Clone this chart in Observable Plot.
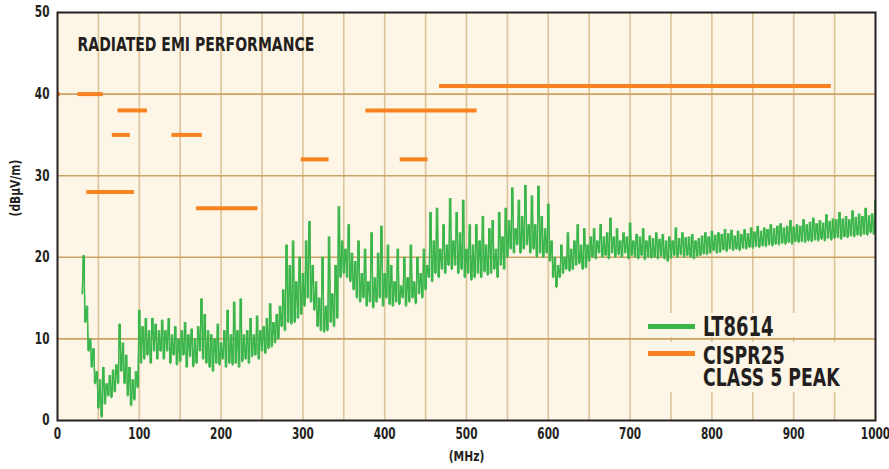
<!DOCTYPE html>
<html>
<head>
<meta charset="utf-8">
<script src="https://cdn.jsdelivr.net/npm/d3@7"></script>
<script src="https://cdn.jsdelivr.net/npm/@observablehq/plot@0.6"></script>
<style>
  html, body { margin: 0; padding: 0; background: #ffffff; }
  #wrap { position: relative; width: 889px; height: 469px; }
  .lg { position: absolute; font-family: "DejaVu Sans Condensed", "DejaVu Sans", sans-serif; font-weight: bold; color: #231f20; line-height: 1; white-space: nowrap; transform: scaleX(0.77); transform-origin: left center; }
  .sw { position: absolute; height: 5px; width: 47px; }
</style>
</head>
<body>
<div id="wrap"></div>
<script>
// ---- data ----
const title = "RADIATED EMI PERFORMANCE";
const xTicks = [0, 100, 200, 300, 400, 500, 600, 700, 800, 900, 1000];
const yTicks = [0, 10, 20, 30, 40, 50];
const xGrid = [50, 100, 150, 200, 250, 300, 350, 400, 450, 500, 550, 600, 650, 700, 750, 800, 850, 900, 950];
const yGrid = [10, 20, 30, 40];

// CISPR25 class 5 peak limit segments (MHz start, MHz end, dBµV/m)
const limitStart = [0.15, 25, 36, 67, 74, 140, 170, 298, 377, 419, 467];
const limitEnd   = [3.5, 56, 94, 89, 110, 177, 245, 332, 513, 453, 946];
const limitLevel = [40, 40, 28, 35, 38, 35, 26, 32, 38, 32, 41];

// LT8614 measured emission, sampled every 2 MHz from 30 MHz
const freqStart = 30, freqStep = 2;
const lt8614 = [
  15.5, 20.2, 12, 14, 8.5, 10, 6.5, 8.8, 4.5, 6,
  1.5, 5, 0.4, 6.5, 2, 4.5, 3, 5.5, 2.8, 6.2,
  3.5, 6.8, 4.5, 11.8, 6, 9.5, 4.5, 8, 3, 6.5,
  1.8, 5, 2.5, 6, 4, 13.5, 7, 11.5, 7.5, 12.5,
  8, 11, 7, 12.5, 8.5, 11.8, 7.5, 11, 8.5, 12.3,
  7.5, 11, 8.5, 12.5, 7, 10.5, 8, 11.5, 6.8, 10,
  7.2, 11, 8, 12, 6.5, 10.5, 7.8, 11.2, 6.6, 10,
  7, 11.5, 8.5, 14.9, 7.5, 13, 7, 11, 6.5, 10.5,
  6, 10, 7, 11.8, 6.8, 9.5, 7.5, 11, 6.5, 13.5,
  7, 10.5, 6.8, 14.5, 7, 11, 6.5, 14.9, 7.2, 10.5,
  7.5, 11, 7, 12.5, 7.8, 10.5, 8, 12.8, 7.5, 11,
  8.5, 11.5, 8.2, 12.5, 8.8, 14.3, 9, 12, 9.5, 13,
  10, 14, 11.5, 16, 11, 21.5, 12, 19, 11.8, 22,
  12, 17, 12.5, 20, 13, 18, 14, 22, 15, 24.4,
  14.5, 19, 13.5, 17, 11.5, 15, 11, 20, 10.8, 14,
  11, 22.5, 12, 15.5, 11.5, 19, 12.5, 26.2, 17.5, 22,
  18, 21, 17.5, 24, 17, 20.5, 16, 19.5, 15, 22,
  14.5, 18, 15, 21, 14, 17, 14.5, 23, 13.8, 17.5,
  14.5, 20.5, 15, 23.8, 14, 18, 15, 21.5, 14.2, 19,
  14, 17, 14.5, 21, 14.2, 16.5, 15, 20, 14, 17.5,
  14.5, 21.5, 15, 17, 14.3, 20, 15.5, 18, 15, 21,
  16, 19, 17.5, 25.5, 17, 22, 18, 26, 17.5, 21,
  18.5, 24, 18, 21.5, 19, 27.2, 18.5, 22, 19, 25.5,
  18, 23, 18.5, 27, 17.5, 21, 18, 24, 17.2, 21.5,
  17.5, 24, 18, 22, 17.5, 25, 18.2, 21.5, 17.8, 23.5,
  18, 24.5, 18.5, 21, 17.5, 25.5, 19, 22.5, 18.5, 26,
  20, 24.5, 21, 28.5, 20.5, 23.5, 21.5, 27, 20.5, 25,
  21, 28.8, 21.5, 24, 20.5, 27.5, 21, 24, 20, 28.7,
  20.5, 25, 20, 23.5, 20.5, 26.5, 19.5, 22, 17.5, 20,
  16.3, 19, 17.5, 21.5, 18, 20, 18.5, 23, 18.3, 21,
  18.5, 22, 19, 24, 19.2, 21.5, 18.5, 23.5, 18.7, 21.5,
  19.5, 22.5, 20, 23.5, 19.8, 22, 20.5, 24, 20, 22.5,
  20.2, 23, 19.8, 24.8, 20.5, 22.5, 20, 23.5, 20.3, 22,
  20, 23, 20.5, 22.5, 19.8, 24.2, 20.2, 22, 20, 22.8,
  19.8, 22.5, 20.2, 23.5, 19.7, 22, 20, 22.6, 19.9, 22.3,
  20, 23, 19.8, 22.2, 20.1, 22.8, 19.8, 22, 19.5, 22.5,
  19.9, 22, 20.2, 23.6, 20, 22.3, 20.3, 23, 20, 22.4,
  20.2, 22.5, 20, 22.8, 19.8, 22, 20.1, 22.3, 20.2, 22.6,
  20.4, 23, 20.3, 22.5, 20.5, 23.2, 20.8, 22.7, 20.5, 23,
  20.6, 22.8, 20.9, 23.4, 20.7, 22.9, 21, 23.3, 20.8, 22.6,
  21, 23.2, 20.8, 22.8, 21.1, 23.4, 21, 22.9, 21.2, 23.6,
  21.1, 23.1, 21.3, 23.8, 21.2, 23.2, 21.4, 23.6, 21.3, 23.4,
  21.5, 24, 21.4, 23.5, 21.6, 23.8, 21.5, 24.1, 21.7, 23.6,
  21.6, 23.8, 21.8, 24.5, 21.6, 23.7, 21.9, 24, 21.8, 23.8,
  21.9, 24.6, 21.8, 24, 22, 24.3, 21.9, 24.8, 22.1, 24.1,
  22, 24.5, 22.2, 24.2, 22, 25.2, 22.3, 24.4, 22.1, 24.7,
  22.3, 24.6, 22.4, 25.5, 22.2, 24.7, 22.5, 25, 22.4, 24.6,
  22.6, 25.7, 22.5, 24.9, 22.7, 25.3, 22.6, 25, 22.8, 26,
  22.7, 25.1, 23, 25.3, 22.8, 27
];

// ---- build tables ----
const trace = lt8614.map((v, i) => ({ f: freqStart + i * freqStep, v }));
// vertical sweep segments between consecutive samples (spectrum-analyzer style fill)
const sweeps = trace.slice(1).map((d, i) => ({ f: (trace[i].f + d.f) / 2, a: trace[i].v, b: d.v }));
const limits = limitLevel.map((v, i) => ({ x1: limitStart[i], x2: limitEnd[i], y: v }));

const FONT = '"DejaVu Sans Condensed", "DejaVu Sans", sans-serif';
const INK = "#231f20";
const GREEN = "#39b54a";
const ORANGE = "#f7821f";

const chart = Plot.plot({
  width: 889,
  height: 469,
  marginLeft: 57,
  marginRight: 14,
  marginTop: 12,
  marginBottom: 49,
  style: { fontFamily: FONT, fontWeight: "bold", color: INK, background: "#ffffff", overflow: "visible" },
  x: { domain: [0, 1000] },
  y: { domain: [0, 50] },
  marks: [
    Plot.frame({ fill: "#fdf5e5", stroke: null }),
    Plot.ruleX(xGrid, { stroke: "#dcc49a", strokeWidth: 1.6 }),
    Plot.ruleY(yGrid, { stroke: "#c9a264", strokeWidth: 1.6 }),
    Plot.ruleX(sweeps, { x: "f", y1: "a", y2: "b", stroke: GREEN, strokeWidth: 1.1 }),
    Plot.lineY(trace, { x: "f", y: "v", stroke: GREEN, strokeWidth: 1.3 }),
    Plot.ruleY(limits, { y: "y", x1: "x1", x2: "x2", stroke: ORANGE, strokeWidth: 4 }),
    Plot.frame({ stroke: INK, strokeWidth: 2 }),
    Plot.axisX({ ticks: xTicks, tickSize: 0, tickPadding: 8, fontSize: 15, label: null, tickFormat: d => String(d) }),
    Plot.axisY({ ticks: yTicks, tickSize: 0, tickPadding: 8, fontSize: 15, label: null }),
    Plot.text([title], { frameAnchor: "top-left", dx: 20, dy: 25, fontSize: 19.5, fill: INK, textAnchor: "start" }),
    Plot.text(["(MHz)"], { frameAnchor: "bottom", dy: 40, fontSize: 14, fill: INK }),
    Plot.text(["(dBμV/m)"], { frameAnchor: "left", dx: -42, rotate: -90, fontSize: 14, fill: INK })
  ]
});

const wrap = document.getElementById("wrap");
wrap.appendChild(chart);

// condense all svg text horizontally (reference uses a condensed bold face)
chart.querySelectorAll("text").forEach(el => {
  const bb = el.getBBox();
  const anchor = getComputedStyle(el).textAnchor;
  const ox = anchor === "end" ? bb.x + bb.width : anchor === "middle" ? bb.x + bb.width / 2 : bb.x;
  const s = el.textContent === title ? 0.8 : el.textContent.startsWith("(") ? 0.85 : 0.78;
  const t = el.getAttribute("transform") || "";
  el.setAttribute("transform", `${t} translate(${ox},0) scale(${s},1) translate(${-ox},0)`);
});

// legend overlay
function add(html, css, cls) {
  const el = document.createElement("div");
  if (cls) el.className = cls;
  el.innerHTML = html;
  Object.assign(el.style, css);
  wrap.appendChild(el);
}
add("", { position: "absolute", left: "644px", top: "313px", width: "190px", height: "24px", background: "#fdf5e5" });
add("", { position: "absolute", left: "644px", top: "342px", width: "215px", height: "50px", background: "#fdf5e5" });
add("", { left: "648px", top: "323.5px", background: GREEN }, "sw");
add("", { left: "648px", top: "350.5px", background: ORANGE }, "sw");
add("LT8614", { left: "703px", top: "314px", fontSize: "26px" }, "lg");
add("CISPR25", { left: "703px", top: "343px", fontSize: "25px" }, "lg");
add("CLASS 5 PEAK", { left: "703px", top: "365px", fontSize: "25px" }, "lg");
</script>
</body>
</html>
